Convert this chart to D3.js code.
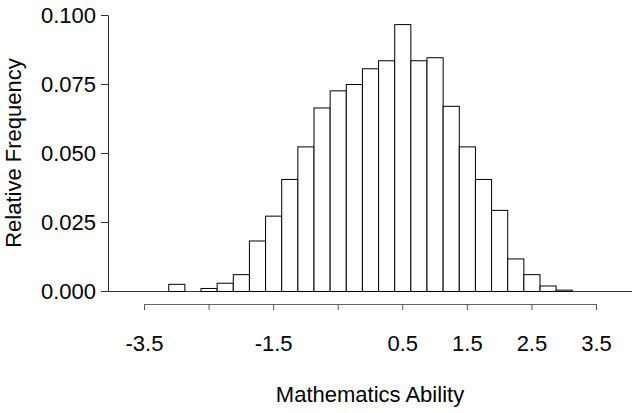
<!DOCTYPE html>
<html>
<head>
<meta charset="utf-8">
<script src="https://cdn.jsdelivr.net/npm/d3@7/dist/d3.min.js"></script>
<style>
  html, body { margin: 0; padding: 0; background: #fff; }
  svg { display: block; }
  text { font-family: "Liberation Sans", Arial, sans-serif; fill: #000; }
</style>
</head>
<body>
<svg id="chart" width="634" height="413"></svg>
<script>
// Histogram bins: centre of each bin (width 0.25) and its relative frequency
const binCenters = [-3.75, -3.5, -3.25, -3.0, -2.75, -2.5, -2.25, -2.0, -1.75, -1.5, -1.25, -1.0,
  -0.75, -0.5, -0.25, 0.0, 0.25, 0.5, 0.75, 1.0, 1.25, 1.5, 1.75, 2.0, 2.25, 2.5, 2.75, 3.0,
  3.25, 3.5, 3.75];
const relFreq = [0, 0, 0, 0.0026, 0, 0.0011, 0.0030, 0.0061, 0.0183, 0.0273, 0.0406, 0.0524,
  0.0665, 0.0727, 0.0750, 0.0807, 0.0836, 0.0967, 0.0836, 0.0847, 0.0671, 0.0524, 0.0406, 0.0294,
  0.0118, 0.0061, 0.0020, 0.0005, 0, 0, 0];
const binWidth = 0.25;

const xTicks = [-3.5, -2.5, -1.5, -0.5, 0.5, 1.5, 2.5, 3.5];
const xTickLabels = ["-3.5", "", "-1.5", "", "0.5", "1.5", "2.5", "3.5"];
const yTicks = [0, 0.025, 0.05, 0.075, 0.1];

const FONT = "'Liberation Sans', Arial, sans-serif";
const FS = "22px";

const svg = d3.select("#chart");

const x = d3.scaleLinear().domain([-3.5, 3.5]).range([144, 596]);
const y = d3.scaleLinear().domain([0, 0.1]).range([291, 15]);

// zero reference line across the plot
svg.append("line")
  .attr("x1", 101).attr("x2", 632)
  .attr("y1", y(0) + 0.5).attr("y2", y(0) + 0.5)
  .attr("stroke", "#333").attr("stroke-width", 1);

// bars
svg.append("g").selectAll("rect")
  .data(binCenters.map((c, i) => ({ c, v: relFreq[i] })))
  .join("rect")
  .attr("x", d => x(d.c - binWidth / 2) + 0.5)
  .attr("width", d => x(d.c + binWidth / 2) - x(d.c - binWidth / 2))
  .attr("y", d => y(d.v) + 0.5)
  .attr("height", d => y(0) - y(d.v))
  .attr("fill", "#fff")
  .attr("stroke", "#000")
  .attr("stroke-width", 1);

// y axis
const yAxis = d3.axisLeft(y)
  .tickValues(yTicks)
  .tickFormat(d3.format(".3f"))
  .tickSize(7)
  .tickPadding(5);
const gy = svg.append("g")
  .attr("transform", "translate(108,0)")
  .call(yAxis)
  .attr("font-size", FS)
  .attr("font-family", FONT);
gy.select(".domain").attr("stroke", "#333");
gy.selectAll(".tick line").attr("stroke", "#333");
gy.selectAll(".tick text").attr("fill", "#000");

// x axis, offset below the bars
const xAxis = d3.axisBottom(x)
  .tickValues(xTicks)
  .tickFormat((d, i) => xTickLabels[i])
  .tickSizeOuter(0)
  .tickSize(6)
  .tickPadding(25);
const gx = svg.append("g")
  .attr("transform", "translate(0,304)")
  .call(xAxis)
  .attr("font-size", FS)
  .attr("font-family", FONT);
gx.select(".domain").attr("stroke", "#666");
gx.selectAll(".tick line").attr("stroke", "#555");
gx.selectAll(".tick text").attr("fill", "#000");

// axis titles
svg.append("text")
  .attr("x", (x(-3.5) + x(3.5)) / 2)
  .attr("y", 402)
  .attr("text-anchor", "middle")
  .attr("font-size", FS)
  .text("Mathematics Ability");

svg.append("text")
  .attr("transform", `translate(21,${(y(0) + y(0.1)) / 2}) rotate(-90)`)
  .attr("text-anchor", "middle")
  .attr("font-size", FS)
  .text("Relative Frequency");
</script>
</body>
</html>
